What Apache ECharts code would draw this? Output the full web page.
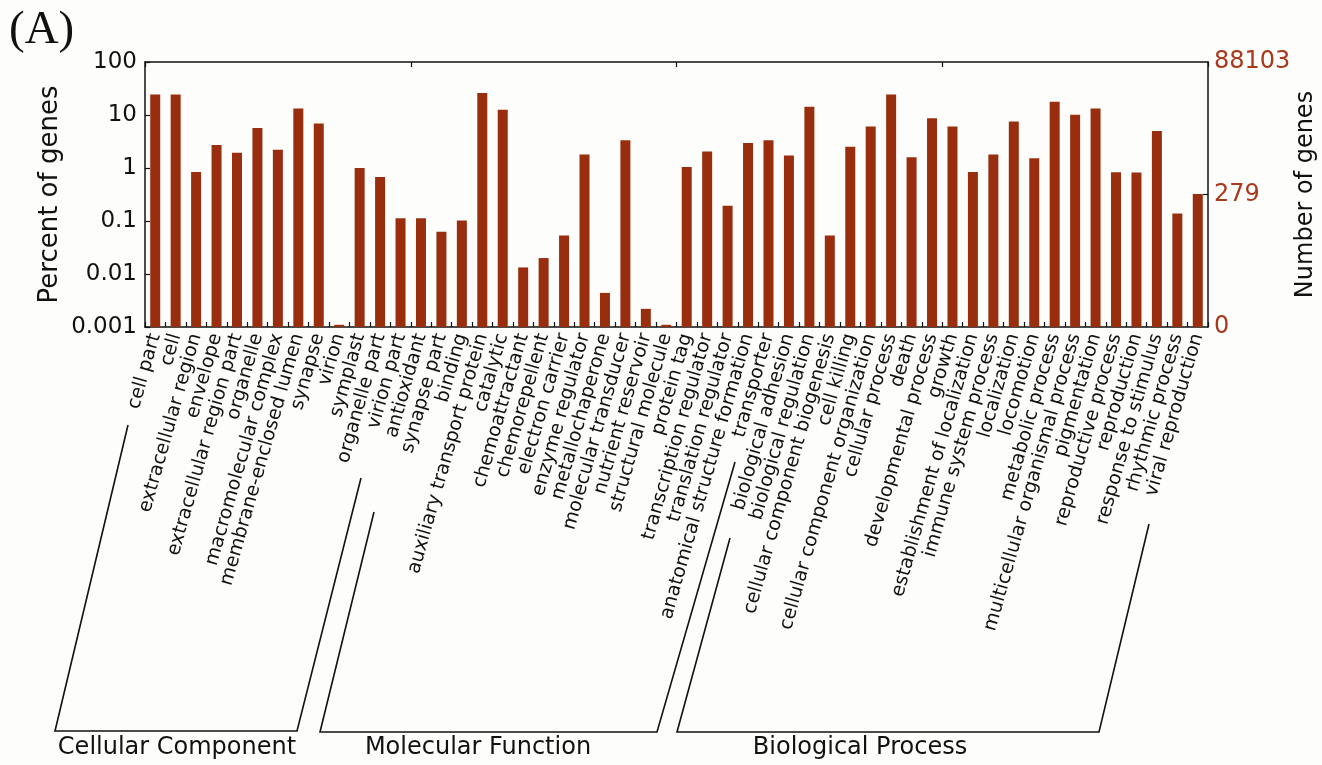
<!DOCTYPE html>
<html>
<head>
<meta charset="utf-8">
<script src="https://cdn.jsdelivr.net/npm/echarts@6/dist/echarts.min.js"></script>
<style>
  html, body { margin: 0; padding: 0; background: #fdfdfb; }
  #chart { width: 1322px; height: 765px; }
</style>
</head>
<body>
<div id="chart"></div>
<script>
// GO categories, left to right
const categories = [
  'cell part', 'cell', 'extracellular region', 'envelope', 'extracellular region part',
  'organelle', 'macromolecular complex', 'membrane-enclosed lumen', 'synapse', 'virion',
  'symplast', 'organelle part', 'virion part', 'antioxidant', 'synapse part', 'binding',
  'auxiliary transport protein', 'catalytic', 'chemoattractant', 'chemorepellent',
  'electron carrier', 'enzyme regulator', 'metallochaperone', 'molecular transducer',
  'nutrient reservoir', 'structural molecule', 'protein tag', 'transcription regulator',
  'translation regulator', 'anatomical structure formation', 'transporter',
  'biological adhesion', 'biological regulation', 'cellular component biogenesis',
  'cell killing', 'cellular component organization', 'cellular process', 'death',
  'developmental process', 'growth', 'establishment of localization',
  'immune system process', 'localization', 'locomotion', 'metabolic process',
  'multicellular organismal process', 'pigmentation', 'reproductive process',
  'reproduction', 'response to stimulus', 'rhythmic process', 'viral reproduction'
]

// percent of genes
const percentOfGenes = [
  24.4, 24.4, 0.84, 2.73, 1.95, 5.7, 2.2, 13.3, 6.9, 0.0011,
  1.0, 0.68, 0.113, 0.113, 0.063, 0.102, 25.9, 12.5, 0.0133, 0.020,
  0.053, 1.79, 0.0044, 3.33, 0.0022, 0.0011, 1.04, 2.04, 0.193, 2.97,
  3.33, 1.73, 14.3, 0.053, 2.53, 6.1, 24.4, 1.59, 8.7, 6.05,
  0.84, 1.79, 7.5, 1.52, 17.8, 10.1, 13.3, 0.83, 0.82, 5.0,
  0.138, 0.322
]

// right axis: number of genes, placed at its percentage of the total
const totalGenes = 88103
const rightTickCounts = [0, 279, 88103]
const rightTickPercents = [0.001, 279 / totalGenes * 100, 100]

const groupNames = ['Cellular Component', 'Molecular Function', 'Biological Process']

const ink = '#111'
const barColor = '#992e0f'
const redText = '#a8391b'

const chart = echarts.init(document.getElementById('chart'))

const logLabel = (v) => {
  const e = Math.round(Math.log10(v))
  return e >= 0 ? String(Math.pow(10, e)) : Math.pow(10, e).toFixed(-e)
}

const rightLabel = (v) => {
  let best = 0
  rightTickPercents.forEach((p, i) => {
    if (Math.abs(Math.log10(p) - Math.log10(v)) < Math.abs(Math.log10(rightTickPercents[best]) - Math.log10(v))) best = i
  })
  return String(rightTickCounts[best])
}

const axisLine = {show: true, lineStyle: {color: ink, width: 1.5}}
const tick = {show: true, inside: true, length: 5, lineStyle: {color: ink, width: 1.2}}

const bracket = (points) => ({
  type: 'polyline',
  shape: {points},
  style: {stroke: ink, lineWidth: 1.6, fill: null}
})

const groupText = (x, text) => ({
  type: 'text',
  x, y: 748,
  style: {text, font: '24px "DejaVu Sans"', fill: ink, align: 'center', verticalAlign: 'middle'}
})

chart.setOption({
  backgroundColor: '#fdfdfb',
  animation: false,
  textStyle: {fontFamily: 'DejaVu Sans'},
  grid: {left: 145, right: 114, top: 62, bottom: 438, outerBoundsMode: 'none', containLabel: false},
  xAxis: [
    {
      type: 'category',
      data: categories,
      position: 'bottom',
      axisLine,
      axisTick: tick,
      axisLabel: {interval: 0, rotate: 74, margin: 7, fontSize: 19, color: ink}
    },
    {
      type: 'category',
      data: categories,
      position: 'top',
      axisLine,
      axisTick: tick,
      axisLabel: {show: false}
    }
  ],
  yAxis: [
    {
      type: 'log',
      logBase: 10,
      min: 0.001,
      max: 100,
      startValue: 0.001,
      position: 'left',
      axisLine,
      axisTick: tick,
      splitLine: {show: false},
      axisLabel: {fontSize: 23, color: ink, margin: 8, formatter: logLabel},
      name: 'Percent of genes',
      nameLocation: 'middle',
      nameRotate: 90,
      nameGap: 82,
      nameMoveOverlap: false,
      nameTextStyle: {fontSize: 26, color: ink}
    },
    {
      type: 'log',
      logBase: 10,
      min: 0.001,
      max: 100,
      position: 'right',
      axisLine,
      axisTick: {show: true, inside: true, length: 5, lineStyle: {color: ink, width: 1.2}, customValues: [rightTickPercents[1]]},
      splitLine: {show: false},
      axisLabel: {fontSize: 24, color: redText, margin: 6, customValues: rightTickPercents, formatter: rightLabel},
      name: 'Number of genes',
      nameLocation: 'middle',
      nameRotate: 90,
      nameGap: 86,
      nameMoveOverlap: false,
      nameTextStyle: {fontSize: 24, color: ink}
    }
  ],
  series: [
    {
      type: 'bar',
      data: percentOfGenes,
      barWidth: 10,
      itemStyle: {color: barColor}
    }
  ],
  graphic: [
    {
      type: 'text', x: 9, y: 7,
      style: {text: '(A)', font: '47px "Liberation Serif"', fill: ink}
    },
    bracket([[128, 425], [55, 731], [297, 731], [361, 478]]),
    bracket([[374, 512], [320, 732], [657, 732], [735, 462]]),
    bracket([[730, 538], [677, 732], [1099, 732], [1149, 524]]),
    groupText(177, groupNames[0]),
    groupText(478, groupNames[1]),
    groupText(860, groupNames[2])
  ]
})
</script>
</body>
</html>
